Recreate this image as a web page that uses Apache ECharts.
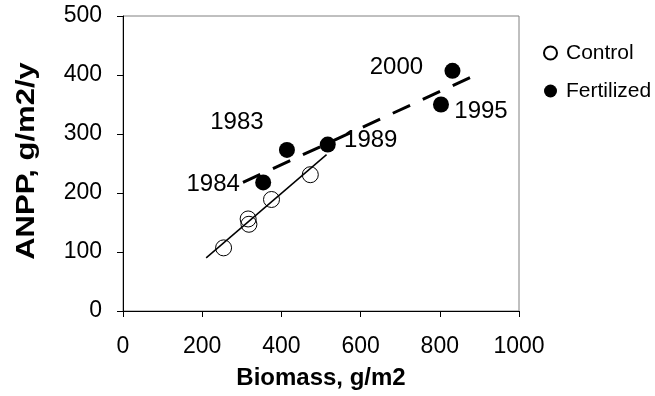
<!DOCTYPE html>
<html>
<head>
<meta charset="utf-8">
<script src="https://cdn.jsdelivr.net/npm/echarts@6/dist/echarts.min.js"></script>
<style>
html,body{margin:0;padding:0;background:#fff;}
#chart{width:655px;height:396px;}
</style>
</head>
<body>
<div id="chart"></div>
<script>
// ---- data ----
const controlBiomass = [254, 316, 318, 375, 473];
const controlANPP    = [107, 156, 147, 189, 231];
const fertBiomass    = [354, 414, 517, 803, 832];
const fertANPP       = [218, 273, 282, 350, 407];
const fertYears      = ['1984', '1983', '1989', '1995', '2000'];
const controlFitX    = [210, 514];
const controlFitY    = [90, 265];
const fertFitX       = [303, 881];
const fertFitY       = [218, 397];
const xTicks = [0, 200, 400, 600, 800, 1000];
const yTicks = [0, 100, 200, 300, 400, 500];
const xTitle = 'Biomass, g/m2';
const yTitle = 'ANPP, g/m2/y';

// label placement (styling only)
const yearLabelOffsets = [[-50, 2], [-50, -28], [43, -4], [40, 7], [-56, -3]];

const FONT = "'Liberation Sans', Arial, sans-serif";

const chart = echarts.init(document.getElementById('chart'), null, {renderer: 'canvas'});

const pairs = (xs, ys) => xs.map((x, i) => [x, ys[i]]);

const option = {
  backgroundColor: '#fff',
  animation: false,
  textStyle: {fontFamily: FONT, color: '#000'},
  grid: {
    left: 123, right: 136, top: 16, bottom: 85,
    show: true, borderColor: '#808080', borderWidth: 1, backgroundColor: 'transparent'
  },
  graphic: [{
    type: 'text', x: 27, y: 161, rotation: Math.PI / 2, scaleX: 1.24, scaleY: 1,
    style: {
      text: yTitle, fontFamily: FONT, fontSize: 25, fontWeight: 'bold', fill: '#000',
      align: 'center', verticalAlign: 'middle'
    }
  }],
  legend: {
    orient: 'vertical',
    left: 543, top: 42,
    itemWidth: 13, itemHeight: 13, itemGap: 16,
    padding: 0,
    data: [
      {name: 'Control', icon: 'circle'},
      {name: 'Fertilized', icon: 'circle'}
    ],
    textStyle: {fontFamily: FONT, fontSize: 21, color: '#000', lineHeight: 22, padding: [0, 0, 0, 4]}
  },
  xAxis: {
    type: 'value', min: xTicks[0], max: xTicks[xTicks.length - 1], interval: xTicks[1] - xTicks[0],
    name: xTitle, nameLocation: 'middle', nameGap: 55,
    nameTextStyle: {fontFamily: FONT, fontSize: 24, fontWeight: 'bold', color: '#000'},
    axisLine: {show: true, onZero: false, lineStyle: {color: '#000', width: 1}},
    axisTick: {show: true, length: 6, inside: false, lineStyle: {color: '#000'}},
    axisLabel: {fontFamily: FONT, fontSize: 23, color: '#000', margin: 24, formatter: v => String(v)},
    splitLine: {show: false}
  },
  yAxis: {
    type: 'value', min: yTicks[0], max: yTicks[yTicks.length - 1], interval: yTicks[1] - yTicks[0],
    axisLine: {show: true, onZero: false, lineStyle: {color: '#000', width: 1}},
    axisTick: {show: true, length: 6, inside: false, lineStyle: {color: '#000'}},
    axisLabel: {fontFamily: FONT, fontSize: 23, color: '#000', margin: 21, formatter: v => String(v)},
    splitLine: {show: false}
  },
  series: [
    {
      name: 'Control fit', type: 'line', data: pairs(controlFitX, controlFitY),
      symbol: 'none', silent: true, z: 3,
      lineStyle: {color: '#000', width: 1.5, type: 'solid', opacity: 1}
    },
    {
      name: 'Fertilized fit', type: 'line', data: pairs(fertFitX, fertFitY),
      symbol: 'none', silent: true, z: 3,
      lineStyle: {color: '#000', width: 3, type: [19, 14], cap: 'butt', opacity: 1}
    },
    {
      name: 'Control', type: 'scatter', z: 2,
      data: pairs(controlBiomass, controlANPP),
      symbol: 'circle', symbolSize: 16,
      itemStyle: {color: 'rgba(255,255,255,0)', borderColor: '#000', borderWidth: 1, opacity: 1}
    },
    {
      name: 'Fertilized', type: 'scatter', z: 4,
      data: fertBiomass.map((x, i) => ({
        value: [x, fertANPP[i]],
        label: {offset: yearLabelOffsets[i]}
      })),
      symbol: 'circle', symbolSize: 16,
      itemStyle: {color: '#000', borderColor: '#000', borderWidth: 0, opacity: 1},
      label: {
        show: true, position: 'inside',
        formatter: p => fertYears[p.dataIndex],
        fontFamily: FONT, fontSize: 24, color: '#000'
      }
    }
  ]
};
chart.setOption(option);
</script>
</body>
</html>
